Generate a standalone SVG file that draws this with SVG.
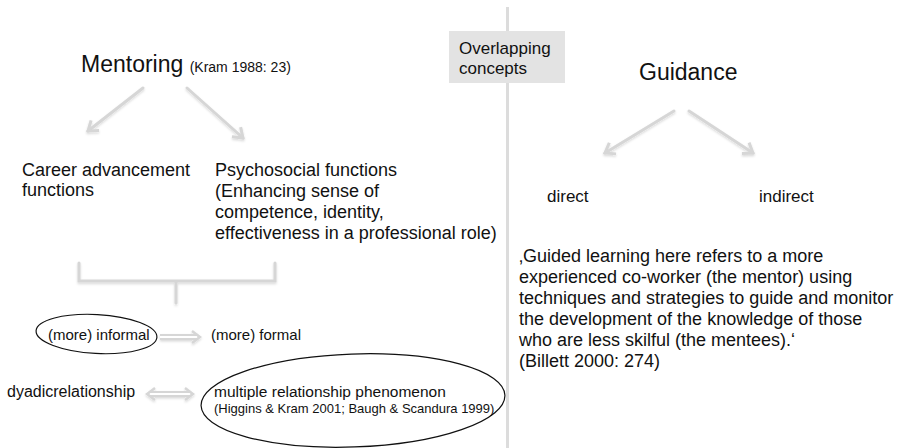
<svg xmlns="http://www.w3.org/2000/svg" width="901" height="448" viewBox="0 0 901 448">
<style>
text{font-family:"Liberation Sans",Arial,sans-serif;fill:#111}
.t18{font-size:18px}
.t17{font-size:17px}
.t16{font-size:16px}
.arr{stroke:#d6d6d6;stroke-width:3;fill:none;stroke-linecap:round}
.dbl-o{stroke:#d6d6d6;stroke-width:6;fill:none}
.dbl-i{stroke:#ffffff;stroke-width:2;fill:none}
.ell{fill:none;stroke:#111;stroke-width:1.2}
</style>
<defs>
<filter id="sh" x="-20%" y="-20%" width="140%" height="140%">
<feDropShadow dx="0" dy="1.5" stdDeviation="1" flood-color="#000" flood-opacity="0.15"/>
</filter>
<marker id="head" markerUnits="userSpaceOnUse" viewBox="-12 -8 14 16" refX="0" refY="0" markerWidth="14" markerHeight="16" orient="auto">
<path d="M-9,-6.5 L0,0 L-9,6.5" fill="none" stroke="#d6d6d6" stroke-width="3" stroke-linejoin="miter"/>
</marker>
<marker id="dhead" markerUnits="userSpaceOnUse" viewBox="-12 -8 14 16" refX="0" refY="0" markerWidth="14" markerHeight="16" orient="auto-start-reverse">
<path d="M-8,-6 L0,0 L-8,6" fill="none" stroke="#d6d6d6" stroke-width="2.5"/>
</marker>
</defs>

<g id="divider">
<line x1="507.5" y1="7" x2="507.5" y2="448" stroke="#dcdcdc" stroke-width="3"/>
</g>

<g id="connectors" filter="url(#sh)">
<line class="arr" x1="143" y1="88" x2="88" y2="131" marker-end="url(#head)"/>
<line class="arr" x1="187" y1="88" x2="243" y2="138" marker-end="url(#head)"/>
<line class="arr" x1="674" y1="111" x2="605" y2="153" marker-end="url(#head)"/>
<line class="arr" x1="689" y1="111" x2="753" y2="153" marker-end="url(#head)"/>
<path class="arr" d="M79,263 V281 H275 V263 M176,281 V303"/>
<g id="dbl1">
<line class="dbl-o" x1="160" y1="337" x2="197" y2="337"/>
<line class="dbl-i" x1="160" y1="337" x2="197" y2="337"/>
<line x1="157" y1="337" x2="200" y2="337" stroke="none" marker-end="url(#dhead)"/>
</g>
<g id="dbl2">
<line class="dbl-o" x1="150" y1="394" x2="190" y2="394"/>
<line class="dbl-i" x1="150" y1="394" x2="190" y2="394"/>
<line x1="147" y1="394" x2="193" y2="394" stroke="none" marker-start="url(#dhead)" marker-end="url(#dhead)"/>
</g>
</g>

<g id="mentoring">
<text x="81" y="72" style="font-size:23px">Mentoring <tspan style="font-size:14px">(Kram 1988: 23)</tspan></text>
</g>

<g id="career">
<text class="t18" x="22" y="176">Career advancement</text>
<text class="t18" x="22" y="196">functions</text>
</g>

<g id="psychosocial">
<text class="t18" x="215" y="176">Psychosocial functions</text>
<text class="t18" x="215" y="197">(Enhancing sense of</text>
<text class="t18" x="215" y="218">competence, identity,</text>
<text class="t18" x="215" y="239">effectiveness in a professional role)</text>
</g>

<g id="informal">
<ellipse class="ell" cx="96.5" cy="334" rx="60.5" ry="19.5" transform="rotate(3 96.5 334)"/>
<text x="48" y="340" style="font-size:15px">(more) informal</text>
</g>

<g id="formal">
<text x="211" y="340" style="font-size:15px">(more) formal</text>
</g>

<g id="dyadic">
<text x="7" y="397" style="font-size:16px">dyadicrelationship</text>
</g>

<g id="multiple">
<ellipse class="ell" cx="353" cy="400.5" rx="152" ry="46.5" transform="rotate(-2 353 400.5)"/>
<text x="214" y="397" style="font-size:15.5px">multiple relationship phenomenon</text>
<text x="214" y="413" style="font-size:13px">(Higgins &amp; Kram 2001; Baugh &amp; Scandura 1999)</text>
</g>

<g id="overlapping">
<rect x="449" y="31" width="116" height="52" fill="#e3e3e3"/>
<text class="t17" x="459" y="54">Overlapping</text>
<text class="t17" x="459" y="74">concepts</text>
</g>

<g id="guidance">
<text x="639" y="80" style="font-size:23px">Guidance</text>
</g>

<g id="direct">
<text class="t17" x="547" y="202">direct</text>
</g>
<g id="indirect">
<text class="t17" x="759" y="202">indirect</text>
</g>

<g id="quote">
<text class="t18" x="519" y="262">‚Guided learning here refers to a more</text>
<text class="t18" x="519" y="283">experienced co-worker (the mentor) using</text>
<text class="t18" x="519" y="304">techniques and strategies to guide and monitor</text>
<text class="t18" x="519" y="325">the development of the knowledge of those</text>
<text class="t18" x="519" y="346">who are less skilful (the mentees).‘</text>
<text class="t18" x="519" y="367">(Billett 2000: 274)</text>
</g>
</svg>
